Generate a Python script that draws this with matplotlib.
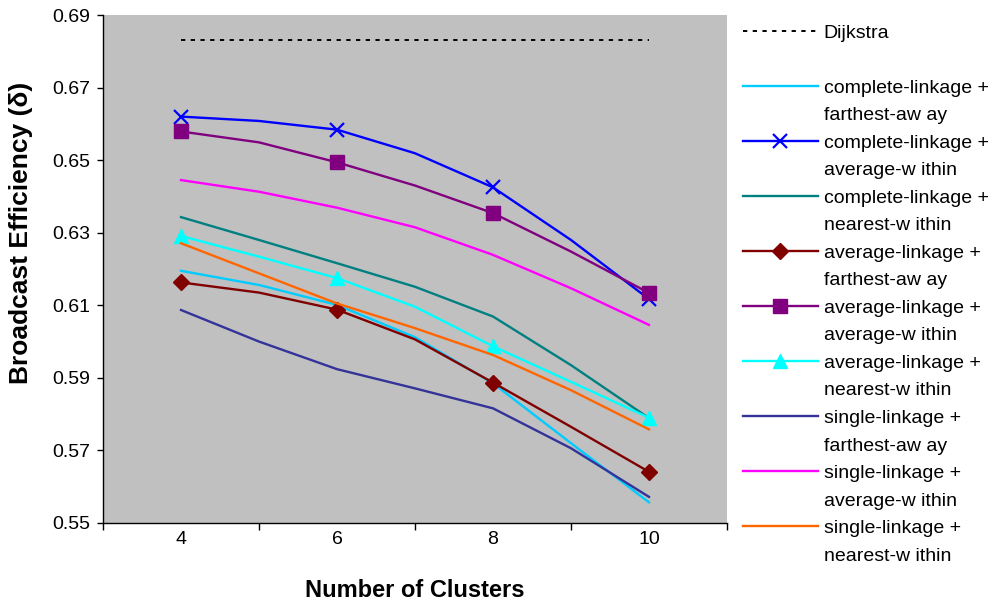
import matplotlib
matplotlib.use("Agg")
import matplotlib.pyplot as plt
from matplotlib.lines import Line2D

plt.rcParams['font.family'] = ['Liberation Sans', 'DejaVu Sans']

# cluster counts where results were measured; markers sit on the even ones
cluster_steps = [4, 5, 6, 7, 8, 9, 10]
cluster_ticks = [4, 6, 8, 10]

dijkstra = [0.683, 0.683, 0.683, 0.683]

complete_farthest = [0.6195, 0.6156, 0.6101, 0.6012, 0.5885, 0.5720, 0.5557]
complete_average = [0.6620, 0.6608, 0.6584, 0.6519, 0.6425, 0.6280, 0.6117]
complete_nearest = [0.6343, 0.6280, 0.6216, 0.6151, 0.6069, 0.5935, 0.5789]
average_farthest = [0.6163, 0.6135, 0.6088, 0.6006, 0.5887, 0.5765, 0.5641]
average_average = [0.6579, 0.6549, 0.6494, 0.6430, 0.6354, 0.6248, 0.6134]
average_nearest = [0.6291, 0.6234, 0.6175, 0.6096, 0.5987, 0.5889, 0.5790]
single_farthest = [0.6087, 0.6000, 0.5924, 0.5871, 0.5816, 0.5706, 0.5572]
single_average = [0.6445, 0.6413, 0.6369, 0.6315, 0.6239, 0.6147, 0.6046]
single_nearest = [0.6271, 0.6188, 0.6105, 0.6037, 0.5963, 0.5866, 0.5758]

series = [
    (complete_farthest, "#00CCFF", None, "complete-linkage +", "farthest-aw ay"),
    (complete_average, "#0000FF", "x", "complete-linkage +", "average-w ithin"),
    (complete_nearest, "#008080", None, "complete-linkage +", "nearest-w ithin"),
    (average_farthest, "#800000", "D", "average-linkage +", "farthest-aw ay"),
    (average_average, "#800080", "s", "average-linkage +", "average-w ithin"),
    (average_nearest, "#00FFFF", "^", "average-linkage +", "nearest-w ithin"),
    (single_farthest, "#333399", None, "single-linkage +", "farthest-aw ay"),
    (single_average, "#FF00FF", None, "single-linkage +", "average-w ithin"),
    (single_nearest, "#FF6600", None, "single-linkage +", "nearest-w ithin"),
]
marker_sizes = {"x": 10, "D": 8, "s": 10, "^": 10}

fig = plt.figure(figsize=(9.94, 6.10), dpi=100)
ax = fig.add_axes([103 / 994, 1 - 523 / 610, 624 / 994, 508 / 610])
ax.set_facecolor("#C0C0C0")

handles = []
labels = []

dk, = ax.plot(cluster_ticks, dijkstra, color="black", lw=1.4, ls=(0, (2.2, 2.8)))
handles += [dk, Line2D([], [], ls="none")]
labels += ["Dijkstra", " "]

blank = Line2D([], [], ls="none")
for values, color, marker, first, second in series:
    kw = {}
    if marker:
        kw = dict(marker=marker, markevery=2, ms=marker_sizes[marker],
                  mfc=color, mec=color, mew=1.6 if marker == "x" else 1)
    line, = ax.plot(cluster_steps, values, color=color, lw=1.7, **kw)
    handles += [line, blank]
    labels += [first, second]

ax.set_xlim(3, 11)
ax.set_ylim(0.55, 0.69)
ax.set_yticks([0.55, 0.57, 0.59, 0.61, 0.63, 0.65, 0.67, 0.69])
ax.set_yticklabels(["0.55", "0.57", "0.59", "0.61", "0.63", "0.65", "0.67", "0.69"])
ax.set_xticks([3, 5, 7, 9, 11])
ax.set_xticklabels([])
ax.set_xticks(cluster_ticks, minor=True)
ax.set_xticklabels([str(c) for c in cluster_ticks], minor=True)
ax.tick_params(axis="x", which="major", length=5, width=1, direction="out")
ax.tick_params(axis="x", which="minor", length=0, pad=6, labelsize=14)
ax.tick_params(axis="y", length=4.5, width=1, direction="out", pad=5, labelsize=14)

for side in ["top", "right"]:
    ax.spines[side].set_visible(False)
for side in ["left", "bottom"]:
    ax.spines[side].set_linewidth(1)
    ax.spines[side].set_color("black")

ax.set_xlabel("Number of Clusters", fontsize=17, fontweight="bold", labelpad=22)
ax.set_ylabel("Broadcast Efficiency (\u03b4)", fontsize=19, fontweight="bold")
ax.yaxis.set_label_coords(-0.112, 0.571)

leg = fig.legend(handles, labels, loc="upper left", bbox_to_anchor=(743 / 994, 1 - 24 / 610),
                 frameon=False, fontsize=14, handlelength=3.85, handletextpad=0.3,
                 labelspacing=0.51, borderpad=0, borderaxespad=0)

fig.savefig("out.png", dpi=100)
